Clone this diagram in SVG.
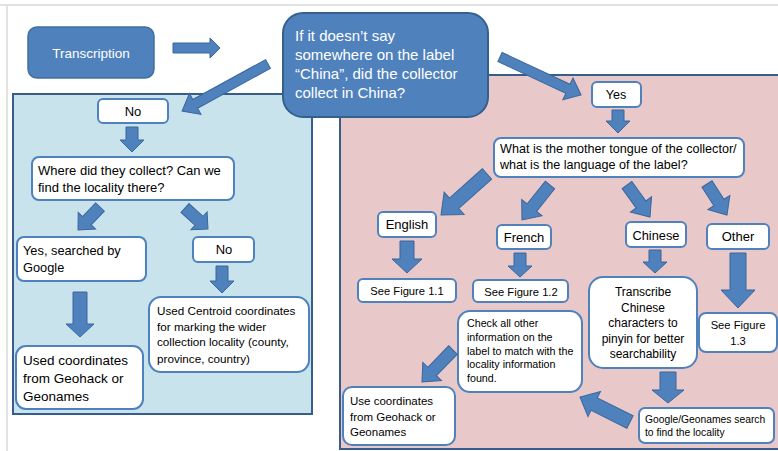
<svg xmlns="http://www.w3.org/2000/svg" width="778" height="451" viewBox="0 0 778 451">
<style>
text{font-family:"Liberation Sans",Arial,sans-serif;fill:#000}
.box{fill:#fff;stroke:#4F81BD;stroke-width:2}
.arr{fill:#4F81BD;stroke:#3A679C;stroke-width:1}
.panel{stroke:#385D8A;stroke-width:2}
.c{text-anchor:middle}
.w{fill:#fff}
</style>
<rect x="0" y="0" width="778" height="451" fill="#fff"/>
<line x1="0" y1="5" x2="778" y2="5" stroke="#e2e2e2" stroke-width="2"/>
<line x1="7" y1="5" x2="7" y2="451" stroke="#e2e2e2" stroke-width="2"/>
<g id="panel-no"><rect class="panel" x="13" y="94" width="299" height="320" fill="#C8E3EC"/></g>
<g id="panel-yes"><rect class="panel" x="340" y="75" width="442" height="374" fill="#E8C8C9"/></g>

<g id="transcription"><rect x="28" y="27" width="126" height="51" rx="9" fill="#4F81BD" stroke="#41709F" stroke-width="1.5"/><text class="c w" x="91" y="58" font-size="13.5">Transcription</text></g>
<g id="question"><rect x="283" y="13" width="205" height="104" rx="20" fill="#4F81BD" stroke="#34608F" stroke-width="2"/>
<text class="w" font-size="15" x="295"><tspan x="295" y="41">If it doesn’t say</tspan><tspan x="295" y="60">somewhere on the label</tspan><tspan x="295" y="79">“China”, did the collector</tspan><tspan x="295" y="98">collect in China?</tspan></text></g>

<g id="no1"><rect class="box" x="98" y="99" width="70" height="24" rx="5"/><text class="c" x="133" y="116" font-size="13">No</text></g>
<g id="where"><rect class="box" x="32" y="157" width="202" height="43" rx="7"/><text font-size="13"><tspan x="38" y="175">Where did they collect? Can we</tspan><tspan x="38" y="192">find the locality there?</tspan></text></g>
<g id="yes-google"><rect class="box" x="17" y="237" width="129" height="44" rx="7"/><text font-size="12.8"><tspan x="23" y="255">Yes, searched by</tspan><tspan x="23" y="272">Google</tspan></text></g>
<g id="no2"><rect class="box" x="193" y="237" width="61" height="25" rx="5"/><text class="c" x="224" y="254" font-size="13">No</text></g>
<g id="used-coords"><rect class="box" x="16" y="346" width="127" height="63" rx="10"/><text font-size="13.5"><tspan x="23" y="365">Used coordinates</tspan><tspan x="23" y="383">from Geohack or</tspan><tspan x="23" y="401">Geonames</tspan></text></g>
<g id="centroid"><rect class="box" x="149" y="297" width="160" height="75" rx="12"/><text font-size="11.7"><tspan x="157" y="315">Used Centroid coordinates</tspan><tspan x="157" y="331">for marking the wider</tspan><tspan x="157" y="346">collection locality (county,</tspan><tspan x="157" y="363">province, country)</tspan></text></g>

<g id="yes"><rect class="box" x="592" y="82" width="49" height="25" rx="5"/><text class="c" x="616" y="99" font-size="12.5">Yes</text></g>
<g id="mother"><rect class="box" x="494" y="138" width="250" height="39" rx="7"/><text font-size="12.6"><tspan x="500" y="153">What is the mother tongue of the collector/</tspan><tspan x="500" y="169">what is the language of the label?</tspan></text></g>
<g id="english"><rect class="box" x="378" y="212" width="58" height="25" rx="5"/><text class="c" x="407" y="229" font-size="13">English</text></g>
<g id="french"><rect class="box" x="497" y="225" width="54" height="24" rx="5"/><text class="c" x="524" y="242" font-size="13">French</text></g>
<g id="chinese"><rect class="box" x="626" y="222" width="60" height="25" rx="5"/><text class="c" x="656" y="239.5" font-size="12.8">Chinese</text></g>
<g id="other"><rect class="box" x="707" y="224" width="62" height="25" rx="5"/><text class="c" x="738" y="241" font-size="13">Other</text></g>
<g id="fig11"><rect class="box" x="358" y="279" width="98" height="23" rx="5"/><text class="c" x="407" y="295" font-size="11.2">See Figure 1.1</text></g>
<g id="fig12"><rect class="box" x="473" y="280" width="95" height="22" rx="5"/><text class="c" x="521" y="296" font-size="11.2">See Figure 1.2</text></g>
<g id="transcribe"><rect class="box" x="589" y="277" width="108" height="91" rx="14"/><text class="c" font-size="12"><tspan x="643" y="296">Transcribe</tspan><tspan x="643" y="311.5">Chinese</tspan><tspan x="643" y="327">characters to</tspan><tspan x="643" y="342.5">pinyin for better</tspan><tspan x="643" y="358">searchability</tspan></text></g>
<g id="fig13"><rect class="box" x="699" y="313" width="78" height="39" rx="7"/><text class="c" font-size="11.2"><tspan x="738" y="329">See Figure</tspan><tspan x="738" y="345">1.3</tspan></text></g>
<g id="check"><rect class="box" x="458" y="311" width="124" height="81" rx="12"/><text font-size="10.7"><tspan x="467" y="327">Check all other</tspan><tspan x="467" y="341">information on the</tspan><tspan x="467" y="355">label to match with the</tspan><tspan x="467" y="368">locality information</tspan><tspan x="467" y="382">found.</tspan></text></g>
<g id="use-coords"><rect class="box" x="343" y="387" width="112" height="58" rx="9"/><text font-size="11.5"><tspan x="350" y="405">Use coordinates</tspan><tspan x="350" y="421">from Geohack or</tspan><tspan x="350" y="436">Geonames</tspan></text></g>
<g id="google"><rect class="box" x="639" y="408" width="135" height="35" rx="6"/><text font-size="10.3"><tspan x="645" y="423">Google/Geonames search</tspan><tspan x="645" y="436">to find the locality</tspan></text></g>

<g id="connectors">
<polygon class="arr" points="173,43 210,43 210,38 220,48 210,58 210,53 173,53"/>
<polygon class="arr" transform="translate(268,64) rotate(151.3)" points="0,-5 83,-5 83,-12 98,0 83,12 83,5 0,5"/>
<polygon class="arr" transform="translate(500,57) rotate(25.1)" points="0,-5 75,-5 75,-12 89.5,0 75,12 75,5 0,5"/>
<polygon class="arr" points="612,110 624,110 624,121 630,121 618,133 606,121 612,121"/>
<polygon class="arr" points="126,127 138,127 138,140 144,140 132,152 120,140 126,140"/>
<polygon class="arr" transform="translate(100,207) rotate(133.7)" points="0,-6 19,-6 19,-12 31.8,0 19,12 19,6 0,6"/>
<polygon class="arr" transform="translate(185,208) rotate(42.4)" points="0,-6 19,-6 19,-12 31.1,0 19,12 19,6 0,6"/>
<polygon class="arr" points="216,266 228,266 228,281 234,281 222,293 210,281 216,281"/>
<polygon class="arr" points="73,292 87,292 87,324 94,324 80,337 66,324 73,324"/>
<polygon class="arr" transform="translate(487,174) rotate(138.3)" points="0,-7 44,-7 44,-15 61.6,0 44,15 44,7 0,7"/>
<polygon class="arr" transform="translate(550,185) rotate(128.7)" points="0,-6 29,-6 29,-13 44.8,0 29,13 29,6 0,6"/>
<polygon class="arr" transform="translate(627,185) rotate(54.3)" points="0,-6 24,-6 24,-13 39.4,0 24,13 24,6 0,6"/>
<polygon class="arr" transform="translate(707,184) rotate(57.2)" points="0,-6 22,-6 22,-13 36.9,0 22,13 22,6 0,6"/>
<polygon class="arr" points="400,241 414,241 414,259 422,259 407,273 392,259 400,259"/>
<polygon class="arr" points="514,253 526,253 526,266 532,266 520,277 508,266 514,266"/>
<polygon class="arr" points="649,250 661,250 661,262 667,262 655,273 643,262 649,262"/>
<polygon class="arr" points="730,253 746,253 746,290 755,290 738,308 721,290 730,290"/>
<polygon class="arr" points="660,372 676,372 676,390 684,390 668,403 652,390 660,390"/>
<polygon class="arr" transform="translate(630,422) rotate(206.6)" points="0,-7 40,-7 40,-14 55.9,0 40,14 40,7 0,7"/>
<polygon class="arr" transform="translate(453,350) rotate(134.1)" points="0,-6 30,-6 30,-13 44.6,0 30,13 30,6 0,6"/>
</g>
</svg>
